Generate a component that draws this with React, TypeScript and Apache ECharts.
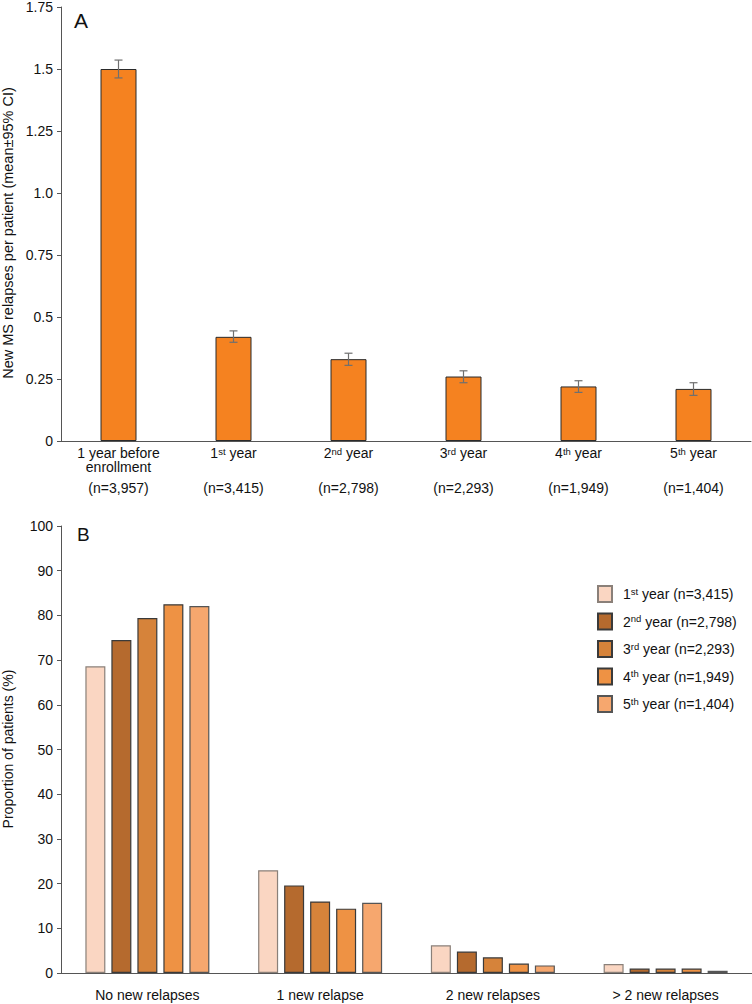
import React, { useEffect, useRef } from "react";
import * as echarts from "echarts";

const topCategories = ["1 year before enrollment", "1st year", "2nd year", "3rd year", "4th year", "5th year"];
const topN = ["(n=3,957)", "(n=3,415)", "(n=2,798)", "(n=2,293)", "(n=1,949)", "(n=1,404)"];
const topMeans = [1.5, 0.42, 0.33, 0.26, 0.22, 0.21];
const topLow = [1.464, 0.398, 0.305, 0.235, 0.196, 0.184];
const topHigh = [1.536, 0.444, 0.354, 0.283, 0.243, 0.235];
const topTicks = ["0", "0.25", "0.5", "0.75", "1.0", "1.25", "1.5", "1.75"];
const topYName = "New MS relapses per patient (mean\u00B195% CI)";

const bottomCategories = ["No new relapses", "1 new relapse", "2 new relapses", "> 2 new relapses"];
const bottomYName = "Proportion of patients (%)";
const yearNames = ["1st year (n=3,415)", "2nd year (n=2,798)", "3rd year (n=2,293)", "4th year (n=1,949)", "5th year (n=1,404)"];
const year1 = [68.6, 23.0, 6.2, 2.0];
const year2 = [74.5, 19.6, 4.8, 1.0];
const year3 = [79.4, 16.0, 3.5, 1.0];
const year4 = [82.5, 14.4, 2.1, 1.0];
const year5 = [82.1, 15.7, 1.7, 0.5];
const yearValues = [year1, year2, year3, year4, year5];
const yearColors = ["#FAD6C2", "#B56A2E", "#D6833A", "#EE9244", "#F6A76E"];
const yearBorders = ["#8a8079", "#3a3a3a", "#3a3a3a", "#3a3a3a", "#555"];

const FONT = "'Liberation Sans', Arial, sans-serif";
const FS = 14;

function supRich(label: string): string {
  const m = label.match(/^(\d)(st|nd|rd|th)(.*)$/);
  if (!m) return `{n|${label}}`;
  return `{n|${m[1]}}{sup|${m[2]}}{n|${m[3]}}`;
}

export default function App() {
  const ref = useRef<HTMLDivElement>(null);
  useEffect(() => {
    if (!ref.current) return;
    const chart = echarts.init(ref.current, null, { renderer: "svg" });
    const richBase = {
      n: { fontSize: FS, fontFamily: FONT, color: "#111", lineHeight: 14 },
      sup: { fontSize: 9.5, fontFamily: FONT, color: "#111", lineHeight: 14, verticalAlign: "top" },
      e: { fontSize: FS, lineHeight: 14 },
      cnt: { fontSize: FS, fontFamily: FONT, color: "#111", lineHeight: 28 },
    };
    const option: any = {
      animation: false,
      textStyle: { fontFamily: FONT },
      grid: [
        { left: 61, right: 1, top: 4, height: 437, containLabel: false },
        { left: 61, right: 0, top: 526, height: 447, containLabel: false },
      ],
      legend: {
        orient: "vertical",
        left: 592,
        top: 580,
        itemWidth: 14,
        itemHeight: 16,
        itemGap: 9.5,
        icon: "rect",
        data: yearNames,
        formatter: (name: string) => supRich(name),
        textStyle: {
          fontFamily: FONT,
          fontSize: FS,
          color: "#111",
          padding: [0, 0, 0, 6],
          rich: {
            n: { fontSize: FS, fontFamily: FONT, color: "#111", lineHeight: 16 },
            sup: { fontSize: 9.5, fontFamily: FONT, color: "#111", lineHeight: 16, verticalAlign: "top" },
          },
        },
      },
      xAxis: [
        {
          type: "category",
          gridIndex: 0,
          data: topCategories,
          axisLine: { lineStyle: { color: "#555", width: 1 } },
          axisTick: { show: false },
          axisLabel: {
            margin: 5,
            interval: 0,
            formatter: (v: string, i: number) => {
              if (i === 0) return `{n|1 year before}\n{n|enrollment}\n{cnt|${topN[0]}}`;
              return `${supRich(v)}\n{e| }\n{cnt|${topN[i]}}`;
            },
            rich: richBase,
          },
        },
        {
          type: "category",
          gridIndex: 1,
          data: bottomCategories,
          axisLine: { lineStyle: { color: "#555", width: 1 } },
          axisTick: { show: false },
          axisLabel: { margin: 15, interval: 0, fontSize: FS, color: "#111", fontFamily: FONT },
        },
      ],
      yAxis: [
        {
          type: "value",
          gridIndex: 0,
          min: 0,
          max: 1.75,
          interval: 0.25,
          splitLine: { show: false },
          axisLine: { show: true, lineStyle: { color: "#555" } },
          axisTick: { show: true, length: 4, lineStyle: { color: "#555" } },
          axisLabel: {
            margin: 8,
            fontSize: FS,
            color: "#111",
            fontFamily: FONT,
            formatter: (v: number) => topTicks[Math.round(v / 0.25)],
          },
        },
        {
          type: "value",
          gridIndex: 1,
          min: 0,
          max: 100,
          interval: 10,
          splitLine: { show: false },
          axisLine: { show: true, lineStyle: { color: "#555" } },
          axisTick: { show: true, length: 4, lineStyle: { color: "#555" } },
          axisLabel: { margin: 8, fontSize: FS, color: "#111", fontFamily: FONT },
        },
      ],
      series: [
        {
          type: "bar",
          xAxisIndex: 0,
          yAxisIndex: 0,
          data: topMeans,
          barWidth: 36,
          itemStyle: { color: "#F58220", borderColor: "#2a2a2a", borderWidth: 1 },
          z: 2,
        },
        {
          type: "custom",
          xAxisIndex: 0,
          yAxisIndex: 0,
          data: topLow.map((l, i) => [i, l, topHigh[i]]),
          z: 5,
          renderItem: (params: any, api: any) => {
            const x = api.value(0);
            const lo = api.coord([x, api.value(1)]);
            const hi = api.coord([x, api.value(2)]);
            const cap = 4;
            const style = { stroke: "#6f6f6f", lineWidth: 1.2 };
            return {
              type: "group",
              children: [
                { type: "line", shape: { x1: lo[0], y1: lo[1], x2: hi[0], y2: hi[1] }, style },
                { type: "line", shape: { x1: lo[0] - cap, y1: lo[1], x2: lo[0] + cap, y2: lo[1] }, style },
                { type: "line", shape: { x1: hi[0] - cap, y1: hi[1], x2: hi[0] + cap, y2: hi[1] }, style },
              ],
            };
          },
        },
        ...yearValues.map((vals, i) => ({
          type: "bar",
          name: yearNames[i],
          xAxisIndex: 1,
          yAxisIndex: 1,
          data: vals,
          barWidth: 20,
          barGap: "30%",
          itemStyle: { color: yearColors[i], borderColor: yearBorders[i], borderWidth: 1.2 },
        })),
      ],
      graphic: [
        { type: "text", left: 74, top: 10, style: { text: "A", fontSize: 21, fontFamily: FONT, fill: "#111" } },
        { type: "text", left: 77, top: 525, style: { text: "B", fontSize: 19, fontFamily: FONT, fill: "#111" } },
        {
          type: "text",
          x: 8,
          y: 233,
          rotation: Math.PI / 2,
          style: { text: topYName, fontSize: 14.5, fontFamily: FONT, fill: "#111", align: "center", verticalAlign: "middle" },
        },
        {
          type: "text",
          x: 8,
          y: 749,
          rotation: Math.PI / 2,
          style: { text: bottomYName, fontSize: 14, fontFamily: FONT, fill: "#111", align: "center", verticalAlign: "middle" },
        },
      ],
    };
    chart.setOption(option);
    return () => chart.dispose();
  }, []);
  return (
    <div
      ref={ref}
      style={{ position: "absolute", left: 0, top: 0, width: 752, height: 1004, background: "#fff" }}
    />
  );
}
